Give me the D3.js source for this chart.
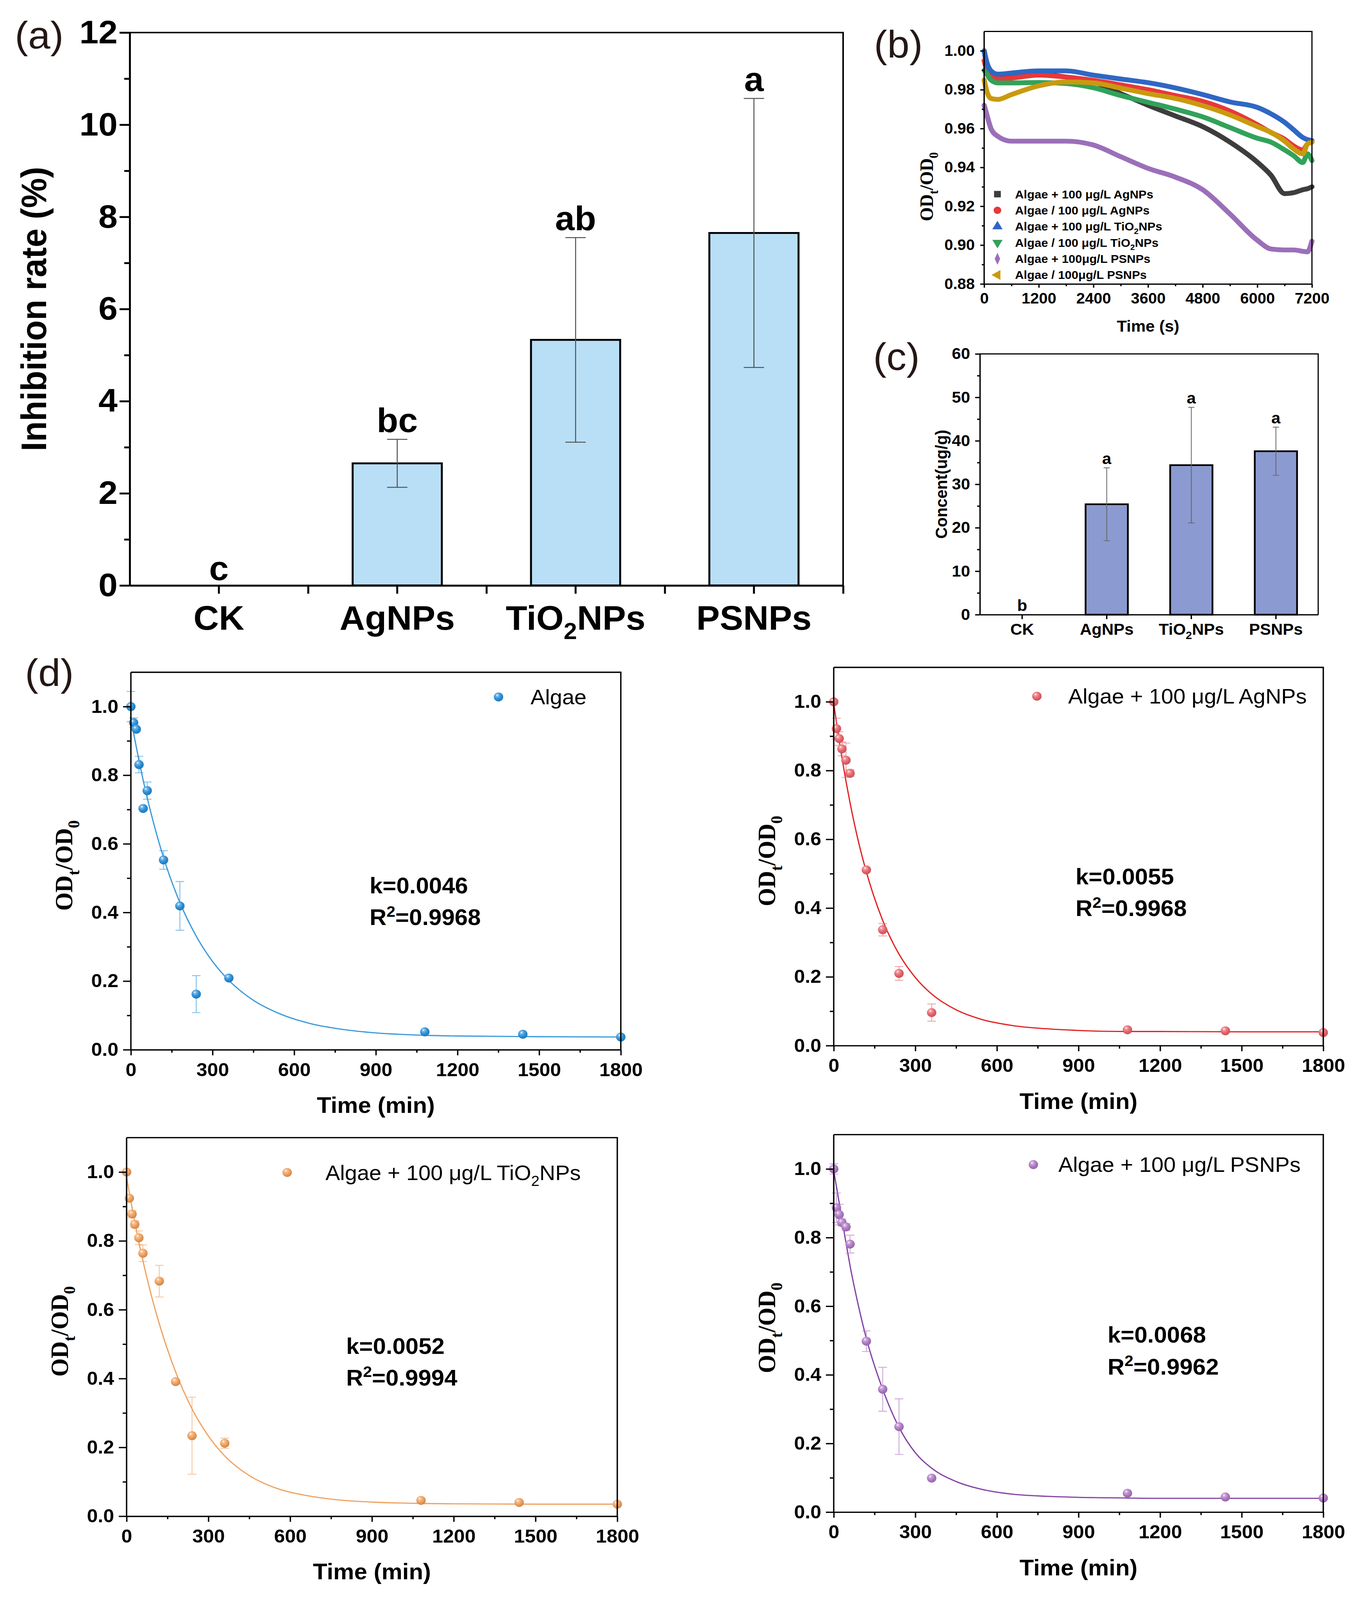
<!DOCTYPE html>
<html><head><meta charset="utf-8">
<script src="https://cdn.jsdelivr.net/npm/d3@7"></script>
<style>html,body{margin:0;padding:0;background:#fff;overflow:hidden}svg{display:block}</style>
</head><body>
<svg id="fig"></svg>
<script>
// ================= DATA =================
// (a) inhibition rate
const categories = ["CK", "AgNPs", "TiO_2NPs", "PSNPs"];
const inhibitionMean = [0, 2.65, 5.33, 7.65];
const inhibitionErr = [0, 0.52, 2.22, 2.92];
const inhibitionLetters = ["c", "bc", "ab", "a"];
const inhibitionTicks = [0, 2, 4, 6, 8, 10, 12];

// (c) content
const contentMean = [0, 25.4, 34.4, 37.6];
const contentErr = [0, 8.4, 13.3, 5.55];
const contentLetters = ["b", "a", "a", "a"];
const contentTicks = [0, 10, 20, 30, 40, 50, 60];

// (b) OD ratio vs time (s)
const odTime = [0, 60, 150, 300, 600, 1200, 1800, 2400, 3000, 3600, 4200, 4800, 5400, 6000, 6300, 6600, 6800, 7000, 7100, 7200];
const odAgPlus  = [1.000, 0.993, 0.989, 0.987, 0.9875, 0.988, 0.9865, 0.984, 0.978, 0.972, 0.9665, 0.961, 0.953, 0.9427, 0.936, 0.9265, 0.927, 0.9285, 0.929, 0.930];
const odAgSlash = [0.995, 0.990, 0.987, 0.9855, 0.986, 0.9875, 0.9865, 0.9848, 0.9825, 0.980, 0.977, 0.974, 0.969, 0.962, 0.958, 0.9545, 0.951, 0.949, 0.952, 0.953];
const odTiPlus  = [1.000, 0.994, 0.9897, 0.988, 0.9886, 0.9897, 0.9897, 0.9875, 0.9855, 0.9836, 0.9809, 0.9775, 0.9737, 0.9709, 0.9676, 0.9632, 0.9593, 0.9554, 0.9543, 0.9538];
const odTiSlash = [0.990, 0.988, 0.985, 0.9835, 0.9835, 0.9837, 0.9832, 0.981, 0.977, 0.9735, 0.970, 0.966, 0.9605, 0.955, 0.953, 0.949, 0.946, 0.9425, 0.947, 0.9435];
const odPSPlus  = [0.972, 0.967, 0.960, 0.956, 0.9535, 0.9535, 0.9535, 0.9515, 0.9455, 0.9395, 0.935, 0.9285, 0.916, 0.9025, 0.898, 0.8975, 0.8975, 0.8968, 0.8965, 0.902];
const odPSSlash = [0.985, 0.979, 0.9755, 0.975, 0.9775, 0.982, 0.984, 0.9835, 0.9808, 0.978, 0.9755, 0.9718, 0.967, 0.961, 0.958, 0.9535, 0.9495, 0.947, 0.952, 0.953];
const odSeriesNames = ["Algae + 100 μg/L AgNPs", "Algae / 100 μg/L AgNPs", "Algae + 100 μg/L TiO_2NPs", "Algae / 100 μg/L TiO_2NPs", "Algae + 100μg/L PSNPs", "Algae / 100μg/L PSNPs"];
const odTicksX = [0, 1200, 2400, 3600, 4800, 6000, 7200];
const odTicksY = [0.88, 0.90, 0.92, 0.94, 0.96, 0.98, 1.00];

// (d) sedimentation, time in min
const sedTime = [0, 10, 20, 30, 45, 60, 120, 180, 240, 360, 1080, 1440, 1800];
const sedAlgae    = [1.0, 0.953, 0.934, 0.831, 0.703, 0.755, 0.553, 0.419, 0.162, 0.209, 0.052, 0.045, 0.037];
const sedAlgaeErr = [0.044, 0.014, 0.005, 0.024, 0, 0.025, 0.027, 0.071, 0.054, 0, 0, 0, 0];
const sedAg       = [1.0, 0.922, 0.893, 0.863, 0.830, 0.792, 0.511, 0.337, 0.210, 0.096, 0.046, 0.043, 0.038];
const sedAgErr    = [0, 0.03, 0.02, 0.02, 0.05, 0.01, 0.005, 0.018, 0.02, 0.025, 0.005, 0.005, 0];
const sedTi       = [1.0, 0.924, 0.878, 0.848, 0.809, 0.764, 0.683, 0.391, 0.234, 0.212, 0.046, 0.040, 0.035];
const sedTiErr    = [0, 0.005, 0.01, 0.01, 0.02, 0.024, 0.046, 0.005, 0.112, 0.015, 0.005, 0, 0];
const sedPS       = [1.0, 0.887, 0.867, 0.844, 0.831, 0.781, 0.498, 0.358, 0.249, 0.099, 0.055, 0.044, 0.041];
const sedPSErr    = [0.015, 0.043, 0.03, 0.01, 0.01, 0.026, 0.03, 0.064, 0.081, 0, 0, 0, 0];
// fitted curves, values
const fitTime  = [0, 15, 30, 45, 60, 90, 120, 180, 240, 300, 360, 450, 540, 660, 780, 900, 1080, 1200, 1500, 1800];
const fitAlgae = [0.967, 0.902, 0.842, 0.786, 0.734, 0.641, 0.560, 0.429, 0.331, 0.257, 0.202, 0.144, 0.107, 0.076, 0.059, 0.049, 0.042, 0.040, 0.038, 0.037];
const fitAg    = [0.995, 0.913, 0.838, 0.769, 0.706, 0.596, 0.505, 0.364, 0.266, 0.198, 0.150, 0.104, 0.077, 0.058, 0.049, 0.044, 0.041, 0.041, 0.040, 0.040];
const fitTi    = [0.985, 0.918, 0.855, 0.796, 0.742, 0.644, 0.559, 0.419, 0.312, 0.233, 0.175, 0.118, 0.084, 0.060, 0.047, 0.041, 0.037, 0.036, 0.035, 0.035];
const fitPS    = [0.995, 0.925, 0.855, 0.785, 0.718, 0.604, 0.506, 0.358, 0.247, 0.173, 0.128, 0.089, 0.067, 0.052, 0.046, 0.043, 0.041, 0.040, 0.040, 0.040];
const sedNames = ["Algae", "Algae + 100 μg/L AgNPs", "Algae + 100 μg/L TiO_2NPs", "Algae + 100 μg/L PSNPs"];
const kLabels = ["k=0.0046", "k=0.0055", "k=0.0052", "k=0.0068"];
const r2Labels = ["R^2=0.9968", "R^2=0.9968", "R^2=0.9994", "R^2=0.9962"];
const sedTicksX = [0, 300, 600, 900, 1200, 1500, 1800];
const sedTicksY = [0, 0.2, 0.4, 0.6, 0.8, 1.0];

// ================= HELPERS =================
const SANS = "'Liberation Sans', Arial, Helvetica, sans-serif";
const SERIF = "'Liberation Serif', 'Times New Roman', Times, serif";
const W = 3481, H = 4277;
const VW = window.innerWidth || W, VH = window.innerHeight || H;
const svg = d3.select("#fig")
  .attr("viewBox", `0 0 ${W} ${H}`)
  .attr("width", VW).attr("height", VH)
  .attr("preserveAspectRatio", "none");
const defs = svg.append("defs");

function rich(sel, str, fs, scale) {
  scale = scale || 0.68;
  const parts = []; let buf = "", i = 0;
  while (i < str.length) {
    const c = str[i];
    if ((c === "_" || c === "^") && i + 1 < str.length) {
      if (buf) { parts.push({ t: buf, m: 0 }); buf = ""; }
      parts.push({ t: str[i + 1], m: c === "_" ? 1 : -1 }); i += 2;
    } else { buf += c; i++; }
  }
  if (buf) parts.push({ t: buf, m: 0 });
  sel.text(null);
  let cur = 0;
  parts.forEach(p => {
    const target = p.m === 1 ? fs * 0.28 : p.m === -1 ? -fs * 0.38 : 0;
    const ts = sel.append("tspan").text(p.t);
    if (target - cur !== 0) ts.attr("dy", target - cur);
    if (p.m !== 0) ts.attr("font-size", fs * scale);
    cur = target;
  });
  return sel;
}

function txt(g, x, y, str, fs, opts) {
  opts = opts || {};
  const t = g.append("text").attr("x", x).attr("y", y)
    .attr("font-family", opts.family || SANS)
    .attr("font-size", fs)
    .attr("font-weight", opts.weight || "bold")
    .attr("fill", opts.fill || "#000")
    .attr("text-anchor", opts.anchor || "start");
  if (opts.rotate) t.attr("transform", `rotate(${opts.rotate},${x},${y})`);
  rich(t, str, fs);
  return t;
}

function styleAxis(g, sw, fs) {
  g.select(".domain").attr("stroke", "#000").attr("stroke-width", sw);
  g.selectAll(".tick line").attr("stroke", "#000").attr("stroke-width", sw);
  g.selectAll(".tick text").attr("font-family", SANS).attr("font-size", fs)
    .attr("font-weight", "bold").attr("fill", "#000");
}

function frame(g, P, sw) {
  g.append("path").attr("d", `M${P.x0},${P.y0}H${P.x1}V${P.y1}`)
    .attr("fill", "none").attr("stroke", "#000").attr("stroke-width", sw);
}

function minorAxis(g, axisFn, scale, vals, len, sw, tr) {
  const a = g.append("g").attr("transform", tr)
    .call(axisFn(scale).tickValues(vals).tickSize(len).tickFormat(""));
  a.select(".domain").remove();
  a.selectAll(".tick line").attr("stroke", "#000").attr("stroke-width", sw);
}

function sphereGradient(id, base) {
  const c = d3.color(base);
  const g = defs.append("radialGradient").attr("id", id)
    .attr("cx", "0.4").attr("cy", "0.35").attr("r", "0.65").attr("fx", "0.35").attr("fy", "0.3");
  g.append("stop").attr("offset", "0").attr("stop-color", "#ffffff");
  g.append("stop").attr("offset", "0.22").attr("stop-color", d3.interpolateRgb(base, "#fff")(0.35));
  g.append("stop").attr("offset", "0.6").attr("stop-color", base);
  g.append("stop").attr("offset", "1").attr("stop-color", c.darker(0.5).formatHex());
}

function panelLabel(x, y, s) {
  svg.append("text").attr("x", x).attr("y", y).attr("font-family", SANS)
    .attr("font-size", 102).attr("fill", "#231815").text(s);
}

// ================= PANEL (a) =================
(function () {
  const P = { x0: 332, x1: 2158, y0: 87, y1: 1565 };
  const g = svg.append("g");
  const x = d3.scaleBand().domain(categories).range([P.x0, P.x1]);
  const y = d3.scaleLinear().domain([0, 12]).range([P.y1, P.y0]);
  const sw = 5;
  g.selectAll("rect.bar").data(categories).join("rect")
    .attr("x", d => x(d) + x.bandwidth() * 0.25)
    .attr("width", x.bandwidth() * 0.5)
    .attr("y", (d, i) => y(inhibitionMean[i]))
    .attr("height", (d, i) => y(0) - y(inhibitionMean[i]))
    .attr("fill", "#b9dff7").attr("stroke", "#000").attr("stroke-width", 5)
    .attr("display", (d, i) => inhibitionMean[i] > 0 ? null : "none");
  categories.forEach((c, i) => {
    if (!inhibitionErr[i]) return;
    const cx = x(c) + x.bandwidth() / 2, hi = y(inhibitionMean[i] + inhibitionErr[i]), lo = y(inhibitionMean[i] - inhibitionErr[i]);
    g.append("path").attr("d", `M${cx},${hi}V${lo}M${cx - 26},${hi}H${cx + 26}M${cx - 26},${lo}H${cx + 26}`)
      .attr("stroke", "#555").attr("stroke-width", 2.6).attr("fill", "none");
  });
  categories.forEach((c, i) => {
    const cx = x(c) + x.bandwidth() / 2;
    const top = inhibitionErr[i] ? y(inhibitionMean[i] + inhibitionErr[i]) - 20 : y(0) - 14;
    txt(g, cx, top, inhibitionLetters[i], 90, { anchor: "middle" });
  });
  frame(g, P, 4);
  const ya = g.append("g").attr("transform", `translate(${P.x0},0)`)
    .call(d3.axisLeft(y).tickValues(inhibitionTicks).tickSize(26).tickSizeOuter(0).tickPadding(5));
  styleAxis(ya, sw, 88);
  minorAxis(g, d3.axisLeft, y, [1, 3, 5, 7, 9, 11], 14, sw, `translate(${P.x0},0)`);
  const xa = g.append("g").attr("transform", `translate(0,${P.y1})`)
    .call(d3.axisBottom(x).tickSize(22).tickSizeOuter(0).tickFormat(""));
  styleAxis(xa, sw, 88);
  const xl = d3.scaleLinear().domain([0, 4]).range([P.x0, P.x1]);
  minorAxis(g, d3.axisBottom, xl, [1, 2, 3, 4], 22, sw, `translate(0,${P.y1})`);
  categories.forEach(c => txt(g, x(c) + x.bandwidth() / 2, 1683, c, 90, { anchor: "middle" }));
  txt(g, 118, (P.y0 + P.y1) / 2, "Inhibition rate (%)", 90, { anchor: "middle", rotate: -90 });
})();
panelLabel(38, 130, "(a)");

// ================= PANEL (b) =================
(function () {
  const P = { x0: 2519, x1: 3358, y0: 84, y1: 759 };
  const g = svg.append("g");
  const x = d3.scaleLinear().domain([0, 7200]).range([P.x0, P.x1]);
  const y = d3.scaleLinear().domain([0.88, 1.01]).range([P.y1, P.y0]);
  const series = [odAgPlus, odAgSlash, odTiPlus, odTiSlash, odPSPlus, odPSSlash];
  const colors = ["#3d3d3d", "#e8383a", "#2f67c3", "#32a25a", "#9b6fb9", "#c99a0e"];
  const line = d3.line().x((d, i) => x(odTime[i])).y(d => y(d)).curve(d3.curveMonotoneX);
  series.forEach((s, k) => {
    g.append("path").attr("d", line(s)).attr("fill", "none").attr("stroke", colors[k])
      .attr("stroke-width", 13).attr("stroke-linejoin", "round").attr("stroke-linecap", "round");
  });
  frame(g, P, 3);
  const sw = 3.5;
  const ya = g.append("g").attr("transform", `translate(${P.x0},0)`)
    .call(d3.axisLeft(y).tickValues(odTicksY).tickFormat(d3.format(".2f")).tickSize(10).tickSizeOuter(0).tickPadding(14));
  styleAxis(ya, sw, 40);
  ya.select(".domain").attr("d", `M0,${P.y1}V${P.y0}`);
  minorAxis(g, d3.axisLeft, y, [0.89, 0.91, 0.93, 0.95, 0.97, 0.99], 6, sw, `translate(${P.x0},0)`);
  const xa = g.append("g").attr("transform", `translate(0,${P.y1})`)
    .call(d3.axisBottom(x).tickValues(odTicksX).tickFormat(d3.format("d")).tickSize(10).tickSizeOuter(0).tickPadding(14));
  styleAxis(xa, sw, 40);
  minorAxis(g, d3.axisBottom, x, [600, 1800, 3000, 4200, 5400, 6600], 6, sw, `translate(0,${P.y1})`);
  txt(g, (P.x0 + P.x1) / 2, 886, "Time (s)", 42, { anchor: "middle" });
  txt(g, 2388, 499, "OD_t/OD_0", 48, { anchor: "middle", rotate: -90, family: SERIF });
  const syms = [d3.symbolSquare, d3.symbolCircle, d3.symbolTriangle, d3.symbolTriangle, d3.symbolDiamond, d3.symbolTriangle];
  const rots = [0, 0, 0, 180, 0, -90];
  const scaleX = [1, 1, 1, 1, 0.75, 1];
  odSeriesNames.forEach((nm, k) => {
    const cy = 519 + k * 43.2;
    g.append("path").attr("d", d3.symbol().type(syms[k]).size(300)())
      .attr("transform", `translate(2553,${cy}) rotate(${rots[k]}) scale(${scaleX[k]},1)`)
      .attr("fill", colors[k]);
    txt(g, 2598, cy + 11, nm, 31);
  });
})();
panelLabel(2237, 154, "(b)");

// ================= PANEL (c) =================
(function () {
  const P = { x0: 2508, x1: 3374, y0: 946, y1: 1643 };
  const g = svg.append("g");
  const x = d3.scaleBand().domain(categories).range([P.x0, P.x1]);
  const y = d3.scaleLinear().domain([0, 60]).range([P.y1, P.y0]);
  g.selectAll("rect.bar").data(categories).join("rect")
    .attr("x", d => x(d) + x.bandwidth() * 0.25)
    .attr("width", x.bandwidth() * 0.5)
    .attr("y", (d, i) => y(contentMean[i]))
    .attr("height", (d, i) => y(0) - y(contentMean[i]))
    .attr("fill", "#8b9ad0").attr("stroke", "#000").attr("stroke-width", 4.5)
    .attr("display", (d, i) => contentMean[i] > 0 ? null : "none");
  categories.forEach((c, i) => {
    if (!contentErr[i]) return;
    const cx = x(c) + x.bandwidth() / 2, hi = y(contentMean[i] + contentErr[i]), lo = y(contentMean[i] - contentErr[i]);
    g.append("path").attr("d", `M${cx},${hi}V${lo}M${cx - 8},${hi}H${cx + 8}M${cx - 8},${lo}H${cx + 8}`)
      .attr("stroke", "#666").attr("stroke-width", 2).attr("fill", "none");
  });
  categories.forEach((c, i) => {
    const cx = x(c) + x.bandwidth() / 2;
    const top = contentErr[i] ? y(contentMean[i] + contentErr[i]) - 10 : y(0) - 10;
    txt(g, cx, top, contentLetters[i], 42, { anchor: "middle" });
  });
  frame(g, P, 3);
  const sw = 3.5;
  const ya = g.append("g").attr("transform", `translate(${P.x0},0)`)
    .call(d3.axisLeft(y).tickValues(contentTicks).tickSize(12).tickSizeOuter(0).tickPadding(13));
  styleAxis(ya, sw, 42);
  minorAxis(g, d3.axisLeft, y, [5, 15, 25, 35, 45, 55], 7, sw, `translate(${P.x0},0)`);
  const xa = g.append("g").attr("transform", `translate(0,${P.y1})`)
    .call(d3.axisBottom(x).tickSize(12).tickSizeOuter(0).tickFormat(""));
  styleAxis(xa, sw, 42);
  categories.forEach(c => txt(g, x(c) + x.bandwidth() / 2, 1697, c, 42, { anchor: "middle" }));
  txt(g, 2424, (P.y0 + P.y1) / 2, "Concent(ug/g)", 43, { anchor: "middle", rotate: -90 });
})();
panelLabel(2235, 989, "(c)");

// ================= PANEL (d) =================
(function () {
  const panels = [
    { P: { x0: 335, x1: 1589, y0: 1797, y1: 2806 }, v: sedAlgae, e: sedAlgaeErr, f: fitAlgae, pt: "#2b8fd8", ln: "#3d9bdb", eb: "rgba(43,143,216,0.55)", leg: [1276, 1863, 1358], kx: 946, ky: 2388 },
    { P: { x0: 2134, x1: 3387, y0: 1784, y1: 2795 }, v: sedAg, e: sedAgErr, f: fitAg, pt: "#e8646c", ln: "#e32222", eb: "rgba(232,100,108,0.55)", leg: [2654, 1861, 2734], kx: 2753, ky: 2364 },
    { P: { x0: 324, x1: 1580, y0: 3041, y1: 4053 }, v: sedTi, e: sedTiErr, f: fitTi, pt: "#f0a05c", ln: "#f0a463", eb: "rgba(240,160,92,0.55)", leg: [735, 3134, 833], kx: 886, ky: 3619 },
    { P: { x0: 2134, x1: 3387, y0: 3033, y1: 4042 }, v: sedPS, e: sedPSErr, f: fitPS, pt: "#b07ac6", ln: "#8444a4", eb: "rgba(176,122,198,0.6)", leg: [2645, 3113, 2709], kx: 2835, ky: 3589 }
  ];
  panels.forEach((p, k) => {
    const P = p.P;
    const g = svg.append("g");
    const gid = "sph" + k;
    sphereGradient(gid, p.pt);
    const x = d3.scaleLinear().domain([0, 1800]).range([P.x0, P.x1]);
    const y = d3.scaleLinear().domain([0, 1.1]).range([P.y1, P.y0]);
    const line = d3.line().x((d, i) => x(fitTime[i])).y(d => y(d)).curve(d3.curveMonotoneX);
    g.append("path").attr("d", line(p.f)).attr("fill", "none").attr("stroke", p.ln).attr("stroke-width", 3.2);
    sedTime.forEach((t, i) => {
      if (!p.e[i]) return;
      const cx = x(t), hi = y(p.v[i] + p.e[i]), lo = y(p.v[i] - p.e[i]);
      g.append("path").attr("d", `M${cx},${hi}V${lo}M${cx - 11},${hi}H${cx + 11}M${cx - 11},${lo}H${cx + 11}`)
        .attr("stroke", p.eb).attr("stroke-width", 2.5).attr("fill", "none");
    });
    g.selectAll("circle.pt").data(p.v).join("circle")
      .attr("cx", (d, i) => x(sedTime[i])).attr("cy", d => y(d)).attr("r", 12)
      .attr("fill", `url(#${gid})`);
    frame(g, P, 3.5);
    const sw = 3.5;
    const ya = g.append("g").attr("transform", `translate(${P.x0},0)`)
      .call(d3.axisLeft(y).tickValues(sedTicksY).tickFormat(d3.format(".1f")).tickSize(20).tickSizeOuter(0).tickPadding(12));
    styleAxis(ya, sw, 50);
    ya.select(".domain").attr("d", `M0,${P.y1}V${P.y0}`);
    minorAxis(g, d3.axisLeft, y, [0.1, 0.3, 0.5, 0.7, 0.9], 10, sw, `translate(${P.x0},0)`);
    const xa = g.append("g").attr("transform", `translate(0,${P.y1})`)
      .call(d3.axisBottom(x).tickValues(sedTicksX).tickFormat(d3.format("d")).tickSize(15).tickSizeOuter(0).tickPadding(20));
    styleAxis(xa, sw, 50);
    minorAxis(g, d3.axisBottom, x, [150, 450, 750, 1050, 1350, 1650], 8, sw, `translate(0,${P.y1})`);
    txt(g, (P.x0 + P.x1) / 2, P.y1 + 169, "Time (min)", 60, { anchor: "middle" });
    txt(g, P.x0 - 150, (P.y0 + P.y1) / 2 + 12, "OD_t/OD_0", 63, { anchor: "middle", rotate: -90, family: SERIF });
    txt(g, p.kx, p.ky, kLabels[k], 60);
    txt(g, p.kx, p.ky + 85, r2Labels[k], 60);
    g.append("circle").attr("cx", p.leg[0]).attr("cy", p.leg[1]).attr("r", 12).attr("fill", `url(#${gid})`);
    txt(g, p.leg[2], p.leg[1] + 20, sedNames[k], 56, { weight: "normal" });
  });
})();
panelLabel(64, 1834, "(d)");
</script>
</body></html>
